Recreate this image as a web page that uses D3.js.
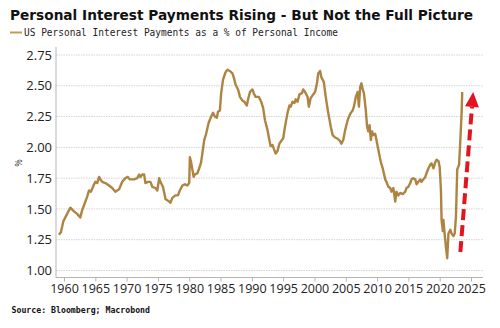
<!DOCTYPE html>
<html><head><meta charset="utf-8">
<script src="https://cdn.jsdelivr.net/npm/d3@7"></script>
<style>html,body{margin:0;padding:0;background:#fff;}svg{display:block;}</style>
</head><body>
<svg id="c" width="500" height="328"></svg>
<script>
const title = "Personal Interest Payments Rising - But Not the Full Picture";
const seriesName = "US Personal Interest Payments as a % of Personal Income";
const source = "Source: Bloomberg; Macrobond";
const yTicks = [1.00, 1.25, 1.50, 1.75, 2.00, 2.25, 2.50, 2.75];
const xTicks = [1960,1965,1970,1975,1980,1985,1990,1995,2000,2005,2010,2015,2020,2025];
const years = [1959.2,1959.5,1959.9,1960.4,1961.0,1961.6,1962.1,1962.6,1962.9,1963.2,1963.7,1964.0,1964.3,1964.8,1965.0,1965.3,1965.6,1965.8,1966.1,1966.6,1967.2,1967.7,1968.2,1968.8,1969.3,1969.8,1970.2,1970.5,1971.2,1971.7,1972.0,1972.2,1972.5,1972.8,1973.0,1973.4,1973.8,1974.1,1974.6,1974.9,1975.2,1975.4,1975.8,1976.1,1976.2,1976.8,1977.0,1977.3,1977.8,1978.2,1978.5,1978.9,1979.3,1979.7,1980.0,1980.1,1980.3,1980.7,1980.9,1981.3,1981.6,1981.9,1982.4,1982.7,1983.1,1983.6,1983.8,1984.1,1984.4,1984.6,1984.9,1985.1,1985.4,1985.8,1986.1,1986.5,1986.9,1987.1,1987.4,1987.8,1988.1,1988.5,1988.8,1989.2,1989.4,1989.7,1990.1,1990.3,1990.6,1991.1,1991.5,1991.8,1992.1,1992.5,1992.8,1993.0,1993.3,1993.5,1993.8,1994.1,1994.4,1994.8,1995.0,1995.3,1995.7,1996.0,1996.2,1996.5,1996.8,1997.0,1997.3,1997.6,1998.0,1998.2,1998.5,1998.9,1999.1,1999.4,1999.8,2000.1,2000.4,2000.6,2000.9,2001.1,2001.5,2001.8,2002.2,2002.6,2002.9,2003.3,2003.7,2004.1,2004.3,2004.6,2004.9,2005.3,2005.6,2005.8,2006.1,2006.3,2006.6,2006.9,2007.1,2007.3,2007.5,2007.7,2007.9,2008.2,2008.4,2008.6,2008.8,2009.0,2009.2,2009.4,2009.7,2009.9,2010.2,2010.6,2010.9,2011.3,2011.5,2011.8,2012.1,2012.3,2012.6,2012.9,2013.1,2013.4,2013.7,2014.1,2014.5,2014.7,2015.0,2015.3,2015.5,2015.8,2016.1,2016.3,2016.6,2016.9,2017.1,2017.4,2017.7,2017.9,2018.2,2018.5,2018.7,2019.0,2019.3,2019.5,2019.8,2020.0,2020.2,2020.3,2020.5,2020.6,2020.8,2021.0,2021.2,2021.4,2021.7,2021.9,2022.2,2022.4,2022.6,2022.8,2023.1,2023.3,2023.5,2023.6];
const values = [1.29,1.31,1.40,1.45,1.51,1.48,1.46,1.43,1.49,1.53,1.60,1.65,1.64,1.70,1.72,1.71,1.76,1.74,1.72,1.71,1.69,1.67,1.64,1.66,1.72,1.75,1.76,1.74,1.74,1.75,1.78,1.76,1.78,1.78,1.71,1.72,1.72,1.68,1.67,1.65,1.75,1.72,1.68,1.61,1.58,1.56,1.55,1.59,1.61,1.61,1.65,1.69,1.70,1.69,1.71,1.92,1.88,1.76,1.78,1.79,1.83,1.88,2.06,2.11,2.20,2.26,2.28,2.25,2.24,2.29,2.30,2.44,2.55,2.61,2.63,2.62,2.60,2.57,2.51,2.47,2.41,2.38,2.37,2.34,2.39,2.45,2.47,2.44,2.41,2.41,2.37,2.32,2.22,2.14,2.06,2.01,2.02,1.99,1.95,1.97,2.03,2.06,2.07,2.17,2.28,2.34,2.33,2.37,2.36,2.39,2.37,2.43,2.44,2.47,2.45,2.41,2.33,2.40,2.43,2.45,2.52,2.60,2.62,2.57,2.53,2.41,2.28,2.17,2.10,2.08,2.07,2.05,2.03,2.06,2.14,2.22,2.26,2.28,2.30,2.33,2.41,2.45,2.33,2.49,2.52,2.47,2.44,2.30,2.17,2.13,2.18,2.06,2.13,2.10,2.11,2.06,1.98,1.88,1.83,1.74,1.72,1.68,1.67,1.64,1.67,1.56,1.64,1.61,1.63,1.62,1.64,1.67,1.68,1.71,1.74,1.75,1.74,1.70,1.72,1.74,1.72,1.74,1.76,1.79,1.83,1.86,1.87,1.83,1.88,1.90,1.89,1.84,1.65,1.41,1.32,1.41,1.29,1.19,1.10,1.30,1.33,1.30,1.28,1.30,1.44,1.82,1.86,2.06,2.28,2.45];
const arrowFrom = [2023.3, 1.15];
const arrowTo = [2025.35, 2.45];

const svg = d3.select("#c");
const x = d3.scaleLinear().domain([1960, 2025]).range([64, 471]);
const y = d3.scaleLinear().domain([1.00, 2.75]).range([270.5, 55]);
const plotLeft = 56, plotRight = 483, plotBottom = 277.5, plotTop = 47;

svg.append("text").attr("x", 10).attr("y", 19.5)
  .attr("font-family", "DejaVu Sans").attr("font-weight", "bold").attr("font-size", 14)
  .attr("textLength", 463).attr("lengthAdjust", "spacingAndGlyphs")
  .attr("fill", "#111").text(title);

svg.append("line").attr("x1", 10).attr("x2", 22).attr("y1", 32.5).attr("y2", 32.5)
  .attr("stroke", "#c49a55").attr("stroke-width", 2);
svg.append("text").attr("x", 24).attr("y", 36)
  .attr("font-family", "DejaVu Sans Mono").attr("font-size", 10)
  .attr("textLength", 314).attr("lengthAdjust", "spacingAndGlyphs")
  .attr("fill", "#222").text(seriesName);

// gridlines
svg.append("g").selectAll("line").data(yTicks).join("line")
  .attr("x1", plotLeft).attr("x2", plotRight)
  .attr("y1", d => y(d)).attr("y2", d => y(d))
  .attr("stroke", "#d4d4d4").attr("stroke-width", 1).attr("stroke-dasharray", "1.5,1");

// y axis
const yAxis = svg.append("g").attr("transform", `translate(${plotLeft},0)`)
  .call(d3.axisLeft(y).tickValues(yTicks).tickFormat(d3.format(".2f")).tickSize(0).tickPadding(4));
yAxis.select(".domain").remove();
yAxis.selectAll("text").attr("font-family", "Open Sans").attr("font-size", 13).attr("fill", "#222");
svg.append("line").attr("x1", plotLeft).attr("x2", plotLeft).attr("y1", plotTop).attr("y2", plotBottom)
  .attr("stroke", "#b5b5b5").attr("stroke-width", 1);

// x axis
const xAxis = svg.append("g").attr("transform", `translate(0,${plotBottom})`)
  .call(d3.axisBottom(x).tickValues(xTicks).tickFormat(d3.format("d")).tickSize(4).tickPadding(3));
xAxis.select(".domain").remove();
xAxis.selectAll(".tick line").attr("stroke", "#b5b5b5");
xAxis.selectAll("text").attr("font-family", "Open Sans").attr("font-size", 12.5).attr("fill", "#222");
svg.append("line").attr("x1", plotLeft).attr("x2", plotRight).attr("y1", plotBottom).attr("y2", plotBottom)
  .attr("stroke", "#b5b5b5").attr("stroke-width", 1);

svg.append("text").attr("transform", "translate(15,163) rotate(90)")
  .attr("text-anchor", "middle").attr("font-family", "Open Sans").attr("font-size", 9)
  .attr("fill", "#222").text("%");

// series
const data = years.map((yr, i) => [yr, values[i]]);
svg.append("path").datum(data)
  .attr("d", d3.line().x(d => x(d[0])).y(d => y(d[1])))
  .attr("fill", "none").attr("stroke", "#ad8442").attr("stroke-width", 2.4)
  .attr("stroke-linejoin", "round");

// arrow
const ax0 = x(arrowFrom[0]), ay0 = y(arrowFrom[1]);
const ax1 = x(arrowTo[0]), ay1 = y(arrowTo[1]);
const ang = Math.atan2(ay1 - ay0, ax1 - ax0);
const headLen = 15, headW = 7;
const bx = ax1 - headLen * Math.cos(ang), by = ay1 - headLen * Math.sin(ang);
svg.append("line").attr("x1", ax0).attr("y1", ay0).attr("x2", bx).attr("y2", by)
  .attr("stroke", "#e3141f").attr("stroke-width", 4).attr("stroke-dasharray", "11,5");
const px = -Math.sin(ang), py = Math.cos(ang);
svg.append("path")
  .attr("d", `M${ax1},${ay1}L${bx + px*headW},${by + py*headW}L${bx - px*headW},${by - py*headW}Z`)
  .attr("fill", "#e3141f");

svg.append("text").attr("x", 11.5).attr("y", 313)
  .attr("font-family", "DejaVu Sans Mono").attr("font-weight", "bold").attr("font-size", 8.5)
  .attr("textLength", 138.5).attr("lengthAdjust", "spacingAndGlyphs")
  .attr("fill", "#111").text(source);
</script>
</body></html>
